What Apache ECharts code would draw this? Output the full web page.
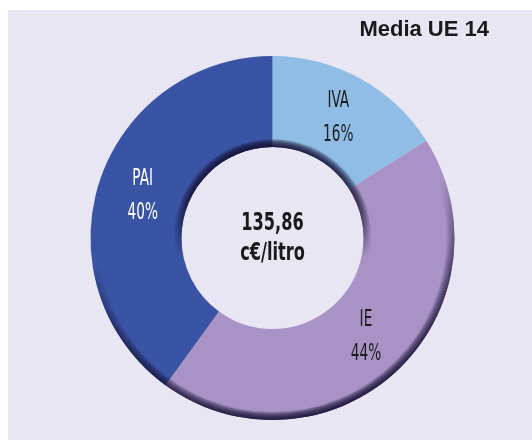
<!DOCTYPE html>
<html>
<head>
<meta charset="utf-8">
<script src="https://cdn.jsdelivr.net/npm/echarts@6/dist/echarts.min.js"></script>
<style>
  html, body { margin: 0; padding: 0; background: #ffffff; }
  #chart { position: absolute; left: 8px; top: 10px; width: 524px; height: 430px; }
</style>
</head>
<body>
<div id="chart"></div>
<script>
// Price components of fuel (c€/litro), EU-14 average
const categories = ['IVA', 'IE', 'PAI'];
const shares = [16, 44, 40];
const sliceColors = ['#8fbde6', '#a993c6', '#3a54a5'];
const labelColors = ['#1c1c1c', '#1c1c1c', '#ffffff'];
const totalPrice = '135,86';
const totalUnit = 'c€/litro';
const chartTitle = 'Media UE 14';

const center = [264.5, 228];
const rInner = 91;
const rOuter = 182;
const condensed = '"DejaVu Sans Condensed", "DejaVu Sans", sans-serif';

const chart = echarts.init(document.getElementById('chart'), null, { renderer: 'canvas' });

// Bevel shading: nested thin rings whose alpha builds up towards the ring edges
function shadeRings(fromOuter) {
  const layers = 8;
  const a = 0.23;
  const out = [];
  for (let k = 0; k < layers; k++) {
    const radius = fromOuter ? [rOuter - (k + 1), rOuter] : [rInner, rInner + (k + 1)];
    const c = (t) => 'rgba(18,12,48,' + (a * t).toFixed(3) + ')';
    const stops = fromOuter
      ? [{ offset: 0, color: c(0) }, { offset: 0.45, color: c(0) }, { offset: 0.75, color: c(0.6) }, { offset: 1, color: c(1) }]
      : [{ offset: 0, color: c(1) }, { offset: 0.3, color: c(0.7) }, { offset: 0.6, color: c(0) }, { offset: 1, color: c(0) }];
    out.push({
      type: 'pie',
      silent: true,
      z: 3,
      center: center,
      radius: radius,
      startAngle: 90,
      label: { show: false },
      labelLine: { show: false },
      emphasis: { disabled: true },
      data: [{
        value: 1,
        itemStyle: {
          color: {
            type: 'linear', x: fromOuter ? 0.38 : 0.5, y: 0, x2: fromOuter ? 0.62 : 0.5, y2: 1,
            colorStops: stops
          }
        }
      }]
    });
  }
  return out;
}

const option = {
  backgroundColor: '#e7e6f2',
  animation: false,
  title: {
    text: chartTitle,
    right: 43,
    top: 9,
    padding: 0,
    textStyle: {
      fontFamily: '"Liberation Sans", Arial, sans-serif',
      fontWeight: 'bold',
      fontSize: 22,
      lineHeight: 22,
      color: '#1a1a1a'
    }
  },
  series: [
    {
      type: 'pie',
      z: 2,
      center: center,
      radius: [rInner, rOuter],
      startAngle: 90,
      clockwise: true,
      avoidLabelOverlap: false,
      emphasis: { disabled: true },
      itemStyle: { borderWidth: 0 },
      label: { show: false },
      labelLine: { show: false },
      data: categories.map((name, i) => ({
        name: name,
        value: shares[i],
        itemStyle: { color: sliceColors[i] }
      }))
    },
    ...shadeRings(true),
    ...shadeRings(false)
  ]
};

chart.setOption(option);

// Condensed labels placed at each sector's middle
const pieData = chart.getModel().getSeriesByIndex(0).getData();
const texts = [];
categories.forEach((name, i) => {
  const lay = pieData.getItemLayout(i);
  const mid = (lay.startAngle + lay.endAngle) / 2;
  const rm = (lay.r + lay.r0) / 2;
  texts.push({
    type: 'text',
    z: 10,
    silent: true,
    x: lay.cx + rm * Math.cos(mid),
    y: lay.cy + rm * Math.sin(mid),
    scaleX: 0.66,
    style: {
      text: name + '\n' + shares[i] + '%',
      fill: labelColors[i],
      font: '23px ' + condensed,
      lineHeight: 34,
      align: 'center',
      verticalAlign: 'middle'
    }
  });
});
const lay0 = pieData.getItemLayout(0);
texts.push({
  type: 'text',
  z: 10,
  silent: true,
  x: lay0.cx,
  y: lay0.cy,
  scaleX: 0.72,
  style: {
    text: totalPrice + '\n' + totalUnit,
    fill: '#1a1a1a',
    font: 'bold 25px ' + condensed,
    lineHeight: 30,
    align: 'center',
    verticalAlign: 'middle'
  }
});
chart.setOption({ graphic: texts });
</script>
</body>
</html>
